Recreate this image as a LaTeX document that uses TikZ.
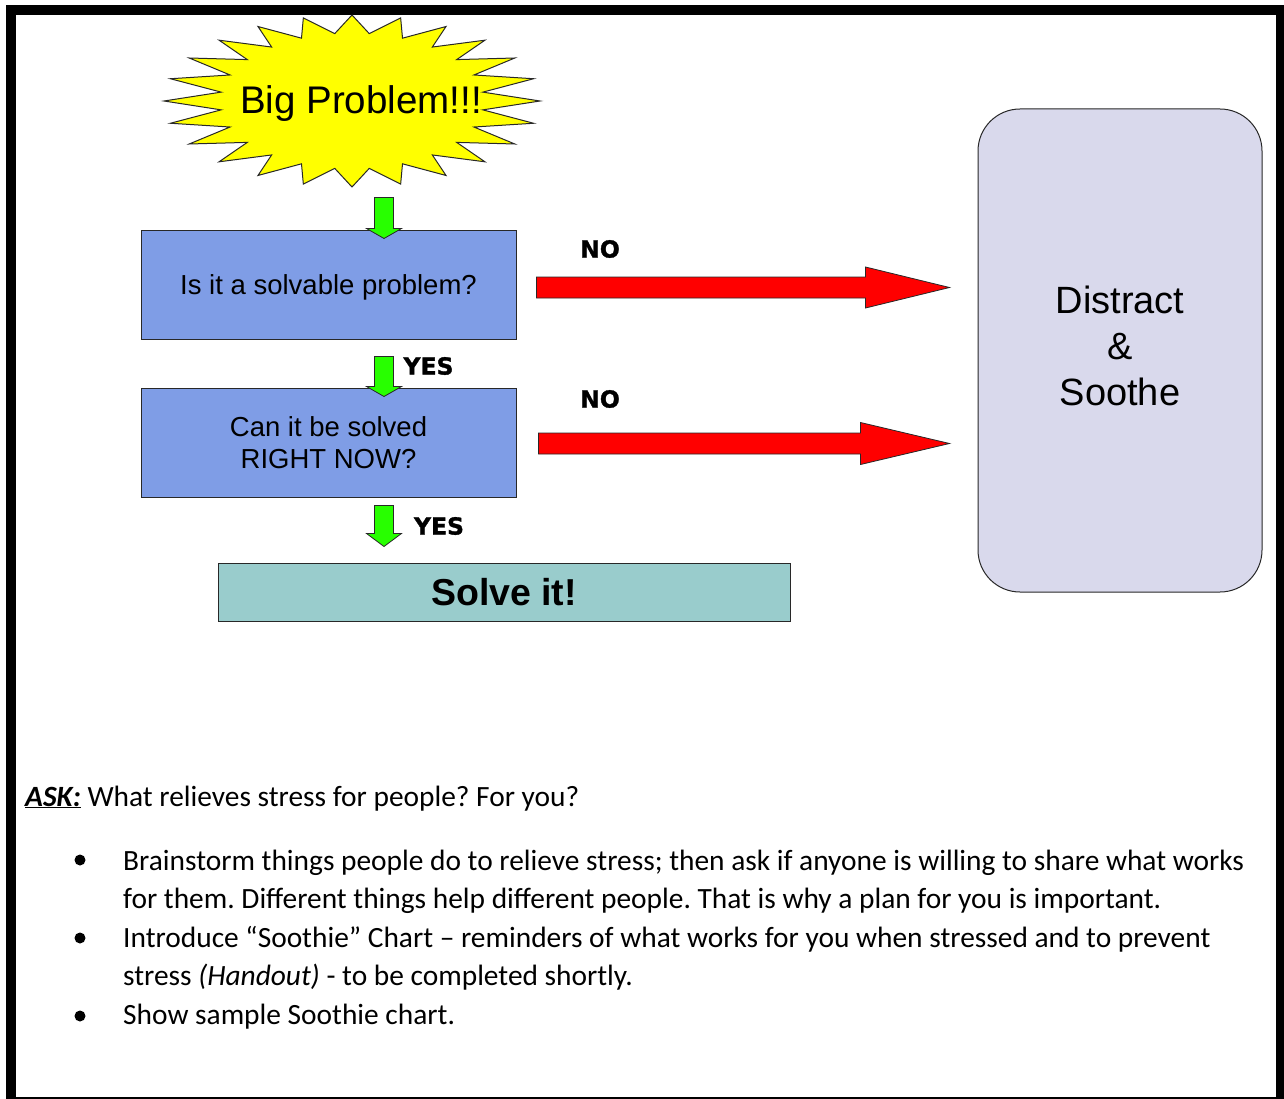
\documentclass[tikz,border=0pt]{standalone}
\usepackage{fontspec}
\setmainfont{Liberation Sans}
\newfontfamily\bodyfont{Carlito}
\newfontfamily\tagfont[BoldFeatures={FakeBold=1.3}]{DejaVu Sans}
\usetikzlibrary{calc}
\frenchspacing

\definecolor{burstyellow}{RGB}{255,255,0}
\definecolor{qblue}{RGB}{127,157,230}
\definecolor{solveteal}{RGB}{153,204,204}
\definecolor{calmlav}{RGB}{217,217,236}
\definecolor{gogreen}{RGB}{40,255,0}
\definecolor{stopred}{RGB}{255,0,0}
\definecolor{edge}{RGB}{40,40,40}

% down-pointing block arrow: tail, tip, shaft half width, head half width, head length
\newcommand\downblock[6][]{%
  \draw[#1] let \p1=#2, \p2=#3 in
    ({\x1-#4},\y1) -- ({\x1-#4},{\y2+#6}) -- ({\x1-#5},{\y2+#6}) -- (\x1,\y2)
    -- ({\x1+#5},{\y2+#6}) -- ({\x1+#4},{\y2+#6}) -- ({\x1+#4},\y1) -- cycle;}
% right-pointing block arrow: tail, tip, shaft half width, head half width, head length
\newcommand\rightblock[6][]{%
  \draw[#1] let \p1=#2, \p2=#3 in
    (\x1,{\y1+#4}) -- ({\x2-#6},{\y1+#4}) -- ({\x2-#6},{\y1+#5}) -- (\x2,\y1)
    -- ({\x2-#6},{\y1-#5}) -- ({\x2-#6},{\y1-#4}) -- (\x1,{\y1-#4}) -- cycle;}

\begin{document}
\begin{tikzpicture}[x=1pt,y=-1pt,
  qbox/.style={draw=edge, line width=1pt, fill=qblue, inner sep=0pt,
    minimum width=375pt, align=center, font=\fontsize{27.5}{32}\selectfont},
  solvebox/.style={draw=edge, line width=1pt, fill=solveteal, inner sep=0pt,
    minimum width=572pt, minimum height=58pt, font=\bfseries\fontsize{37.5}{44}\selectfont},
  calmbox/.style={draw=edge, line width=1pt, fill=calmlav, rounded corners=42pt,
    inner sep=0pt, minimum width=284pt, minimum height=483pt,
    font=\fontsize{38}{46}\selectfont},
  tag/.style={inner sep=0pt, font=\tagfont\bfseries\fontsize{23.5}{28}\selectfont},
  greenblk/.style={draw=edge, line width=0.8pt, fill=gogreen},
  redblk/.style={draw=edge, line width=0.8pt, fill=stopred},
  bodytext/.style={anchor=base west, inner sep=0pt, font=\bodyfont\fontsize{29.4}{35}\selectfont},
]
\useasboundingbox (0,0) rectangle (1284,1099);

% outer frame
\begin{scope}
  \clip (0,0) rectangle (1284,1099);
  \draw[line width=10pt] (11,10) rectangle (1281,1102);
\end{scope}

% starburst
\draw[draw=edge, line width=1pt, fill=burstyellow]
  (540,101) \foreach \k in {0,...,23} {
    -- ({352+132*cos(\k*15+7.5)},{101-68*sin(\k*15+7.5)})
    -- ({352+188*cos((\k+1)*15)},{101-86*sin((\k+1)*15)}) } -- cycle;
\node[inner sep=0pt, font=\fontsize{38.5}{44}\selectfont] (big) at (361,104) {Big Problem!!!};

% question boxes and outcomes
\node[qbox, minimum height=108pt, text height=19.7pt, text depth=0pt] (q1) at (328.5,285) {Is it a solvable problem?};
\node[qbox, minimum height=109pt] (q2) at (328.5,442.5) {Can it be solved\\RIGHT NOW?};
\node[solvebox] (solve) at (504,592) {Solve it!};
\node[calmbox] (calm) at (1120,350.5)
  {\raisebox{4pt}{\begin{tabular}{@{}c@{}}Distract\\\&\\Soothe\end{tabular}}};

% green "yes" arrows
\downblock[greenblk]{($(q1.north)+(55.5,-33)$)}{($(q1.north)+(55.5,8)$)}{9.5pt}{17.5pt}{10pt}
\downblock[greenblk]{($(q1.south)+(55.5,17)$)}{($(q2.north)+(55.5,9)$)}{9.5pt}{17.5pt}{10pt}
\downblock[greenblk]{($(q2.south)+(55.5,8)$)}{($(solve.north)+(-120,-16)$)}{9.5pt}{17.5pt}{13pt}

% red "no" arrows
\rightblock[redblk]{($(q1.east)+(20,2.5)$)}{($(calm.west |- q1.east)+(-28,2.5)$)}{10.5pt}{20.5pt}{84pt}
\rightblock[redblk]{($(q2.east)+(22,1)$)}{($(calm.west |- q2.east)+(-28,1)$)}{10.5pt}{21pt}{89pt}

% arrow labels
\node[tag] (no1) at (600,249) {NO};
\node[tag] (no2) at (600,399) {NO};
\node[tag] (yes1) at (428.5,366) {YES};
\node[tag] (yes2) at (439,526) {YES};

% discussion notes
\node[bodytext] (ask) at (25,806) {{\bfseries\itshape\underline{ASK:}} What relieves stress for people? For you?};
\fill (80,860) circle (5.5pt);
\fill (80,938) circle (5.5pt);
\fill (80,1016) circle (5.5pt);
\node[bodytext] (b1a) at (123,870) {Brainstorm things people do to relieve stress; then ask if anyone is willing to share what works};
\node[bodytext] (b1b) at (123,908) {for them. Different things help different people. That is why a plan for you is important.};
\node[bodytext] (b2a) at (123,947) {Introduce “Soothie” Chart – reminders of what works for you when stressed and to prevent};
\node[bodytext] (b2b) at (123,985) {stress \textit{(Handout)} - to be completed shortly.};
\node[bodytext] (b3) at (123,1024) {Show sample Soothie chart.};
\end{tikzpicture}
\end{document}
